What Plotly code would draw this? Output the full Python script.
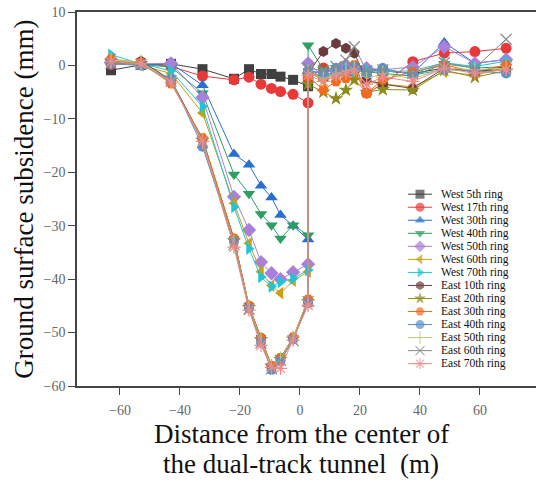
import plotly.graph_objects as go

# x positions of measuring points (m): west side of centre, then east side
x_left = [-63, -53, -43, -32.5, -22, -17, -13, -9.5, -6.5, -2.3, 2.7]
x_right = [2.7, 7.8, 12, 15.3, 18.1, 22.2, 27.6, 37.6, 48.1, 58.3, 68.7]

series_names = ["West 5th ring", "West 17th ring", "West 30th ring", "West 40th ring",
                "West 50th ring", "West 60th ring", "West 70th ring", "East 10th ring",
                "East 20th ring", "East 30th ring", "East 40th ring", "East 50th ring",
                "East 60th ring", "East 70th ring"]

west5_l = [-0.9, 0.1, 0.3, -0.7, -2.5, -0.7, -1.6, -1.6, -2.1, -2.7, -3.9]
west5_r = [-1.5, -2.0, -1.0, -0.5, -0.5, -1.0, -1.0, -1.5, -0.5, -1.0, -0.8]
west17_l = [0.2, 0.4, -0.2, -2.0, -2.7, -2.2, -3.5, -4.3, -4.9, -5.4, -7.0]
west17_r = [-2.5, -0.5, -1.5, -1.0, -1.0, -5.2, -3.5, 0.7, 2.3, 2.6, 3.2]
west30_l = [0.8, 0.0, 0.4, -3.7, -16.6, -18.6, -22.5, -24.7, -28.0, -30.0, -32.6]
west30_r = [-1.0, -1.5, -0.5, 0.3, -1.5, -0.5, -1.0, -1.5, 4.3, 0.4, 1.1]
west40_l = [0.6, 0.2, -0.3, -5.2, -20.4, -24.0, -27.8, -29.9, -32.4, -29.9, -31.8]
west40_r = [3.8, -0.8, -0.5, 0.0, -1.0, -1.2, -1.5, -2.0, 0.3, -0.5, -0.2]
west50_l = [0.5, 0.3, 0.4, -6.0, -24.6, -30.8, -36.8, -38.9, -40.0, -38.7, -37.2]
west50_r = [0.4, -2.0, -1.0, 0.1, -0.5, -0.5, -0.8, -0.3, 3.5, 0.4, 1.1]
west60_l = [0.8, 0.0, -1.5, -8.9, -25.8, -33.3, -38.6, -41.2, -42.6, -40.3, -38.6]
west60_r = [-1.2, -2.8, -2.0, -1.8, -2.5, -3.0, -3.5, -4.0, -1.2, -1.8, -0.5]
west70_l = [2.0, 0.3, -1.0, -7.7, -26.5, -34.3, -39.6, -41.4, -40.5, -39.9, -38.3]
west70_r = [-0.9, -1.5, -1.8, -0.5, -1.0, -0.8, -1.2, -1.0, 0.5, -0.2, 0.8]
east10_l = [0.5, 0.8, -2.7, -13.8, -32.5, -45.0, -51.0, -56.3, -54.8, -51.0, -44.0]
east10_r = [-1.5, 2.6, 4.1, 3.2, 2.3, -2.7, -3.5, -4.3, -0.5, -1.2, -0.2]
east20_l = [0.8, 0.4, -2.8, -14.0, -32.8, -45.3, -51.3, -56.3, -55.0, -51.2, -44.2]
east20_r = [-3.5, -5.0, -6.2, -4.6, -2.7, -5.0, -4.5, -4.6, -0.9, -2.2, -1.0]
east30_l = [1.2, 0.5, -3.4, -13.6, -32.4, -45.0, -51.0, -56.2, -54.7, -50.9, -43.8]
east30_r = [-2.0, -4.6, -3.0, -2.4, 0.1, -5.2, -2.7, -1.2, 0.1, -1.2, 0.1]
east40_l = [0.3, 0.0, -2.5, -15.2, -33.0, -45.5, -51.8, -57.0, -55.3, -51.3, -44.5]
east40_r = [-1.0, -1.5, -0.5, -0.8, -0.2, -1.5, -0.5, -1.8, -0.8, -1.0, -1.5]
east50_l = [1.0, 0.6, -3.0, -14.2, -33.2, -45.2, -51.5, -56.5, -55.0, -51.0, -44.0]
east50_r = [-1.2, -2.5, -1.5, -1.0, -0.5, -2.5, -1.5, -2.5, -0.5, -0.8, -0.5]
east60_l = [0.4, 0.2, -2.9, -14.4, -33.5, -45.6, -51.9, -56.8, -55.2, -51.5, -44.2]
east60_r = [-0.5, -1.0, -0.2, 1.0, 3.5, -1.0, -0.8, -1.5, 0.5, -0.5, 4.9]
east70_l = [0.7, 0.3, -3.1, -14.2, -34.0, -45.8, -52.4, -56.5, -56.7, -51.4, -44.9]
east70_r = [-1.8, -3.0, -2.0, -1.5, -1.0, -3.5, -2.2, -3.0, -0.5, -1.5, -0.8]

values = [west5_l + west5_r, west17_l + west17_r, west30_l + west30_r, west40_l + west40_r,
          west50_l + west50_r, west60_l + west60_r, west70_l + west70_r,
          east10_l + east10_r, east20_l + east20_r, east30_l + east30_r,
          east40_l + east40_r, east50_l + east50_r, east60_l + east60_r,
          east70_l + east70_r]

x_ticks = [-60, -40, -20, 0, 20, 40, 60]
y_ticks = [10, 0, -10, -20, -30, -40, -50, -60]

colors = ["#404040", "#e8393a", "#2a6fd0", "#2e9e62", "#a97fdc", "#c9a010",
          "#22c3d3", "#6b3c3c", "#8c8c1a", "#f26a1c", "#5b90c8", "#b5c97a",
          "#8a8a8a", "#ee8a8a"]
symbols = ["square", "circle", "triangle-up", "triangle-down", "diamond",
           "triangle-left", "triangle-right", "hexagon", "star", "hexagon2",
           "circle", "line-ns", "x-thin", "asterisk"]
msizes = [10, 11, 11, 11, 11, 11, 11, 11, 11, 11, 10, 11, 11, 11]

xs = x_left + x_right
fig = go.Figure()
for name, vals, c, s, ms in zip(series_names, values, colors, symbols, msizes):
    open_sym = s in ("line-ns", "x-thin", "asterisk")
    fig.add_trace(go.Scatter(
        x=xs, y=vals, mode="lines+markers", name=name, showlegend=False,
        line=dict(color=c, width=1),
        marker=dict(symbol=s, size=ms, color=c,
                    line=dict(color=c, width=1.2 if open_sym else 0)),
    ))

# custom compact legend (drawn in data coordinates of the main axes)
leg_top = -24.1
leg_step = -2.44
leg_x0, leg_x1, leg_xm, leg_xt = 36.0, 44.0, 40.0, 46.3
for i, (name, c, s) in enumerate(zip(series_names, colors, symbols)):
    yy = leg_top + i * leg_step
    open_sym = s in ("line-ns", "x-thin", "asterisk")
    fig.add_trace(go.Scatter(
        x=[leg_x0, leg_xm, leg_x1], y=[yy, yy, yy], mode="lines+markers",
        showlegend=False, hoverinfo="skip",
        line=dict(color=c, width=1),
        marker=dict(symbol=s, size=[0, 9, 0], color=c,
                    line=dict(color=c, width=1.2 if open_sym else 0)),
    ))
    fig.add_annotation(x=leg_xt, y=yy, text=name, showarrow=False,
                       xanchor="left", yanchor="middle",
                       font=dict(family="Liberation Serif", size=11.5, color="#111"))

axis_col = "#444"
fig.update_xaxes(range=[-74.33, 78.67], tickvals=x_ticks,
                 ticktext=[str(v).replace("-", "\u2212") for v in x_ticks],
                 showgrid=False, zeroline=False, showline=True, linecolor=axis_col,
                 linewidth=1.5, mirror=True, ticks="outside", ticklen=7,
                 tickcolor=axis_col, tickwidth=1.2, ticklabelstandoff=3,
                 tickfont=dict(family="Liberation Serif", size=14, color="#666"))
fig.update_yaxes(range=[-60, 10], tickvals=y_ticks,
                 ticktext=[str(v).replace("-", "\u2212") for v in y_ticks],
                 showgrid=False, zeroline=False, showline=True, linecolor=axis_col,
                 linewidth=1.5, mirror=False, ticks="outside", ticklen=7,
                 tickcolor=axis_col, tickwidth=1.2,
                 tickfont=dict(family="Liberation Serif", size=14, color="#666"))

title_font = dict(family="Liberation Serif", size=27, color="#111")
fig.add_annotation(xref="paper", yref="paper", x=-0.116, y=0.5, textangle=-90,
                   text="Ground surface subsidence (mm)", showarrow=False,
                   xanchor="center", yanchor="middle", font=title_font)
fig.add_annotation(xref="paper", yref="paper", x=0.489, y=-0.128,
                   text="Distance from the center of", showarrow=False,
                   xanchor="center", yanchor="middle", font=title_font)
fig.add_annotation(xref="paper", yref="paper", x=0.489, y=-0.208,
                   text="the dual-track tunnel \u00a0(m)", showarrow=False,
                   xanchor="center", yanchor="middle", font=title_font)

fig.update_layout(width=536, height=482, margin=dict(l=77, r=0, t=12, b=96),
                  paper_bgcolor="white", plot_bgcolor="white", showlegend=False)
# remove the browser's default page margin so the figure fills the window
fig.write_html("out.html", config={"displayModeBar": False},
               post_script="document.body.style.margin='0';")
